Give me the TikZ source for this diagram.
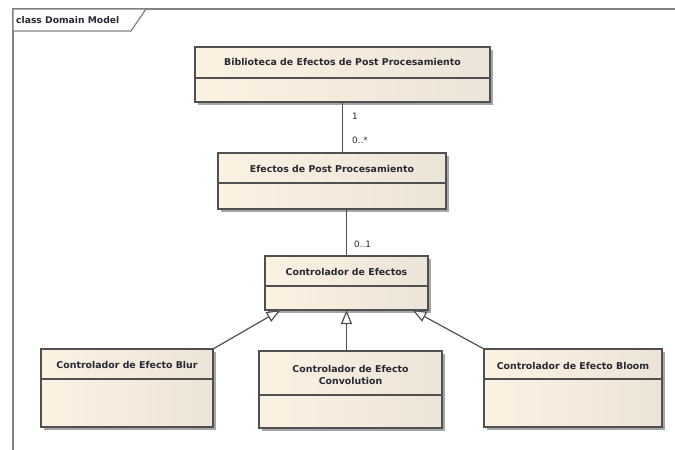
\documentclass[tikz,border=0pt]{standalone}
\usepackage{fontspec}
\setmainfont{DejaVu Sans}
\usetikzlibrary{arrows.meta,shadows}
\definecolor{boxL}{RGB}{252,242,226}
\definecolor{boxR}{RGB}{236,228,216}
\definecolor{edge}{RGB}{80,80,80}
\definecolor{txt}{RGB}{40,40,50}
\tikzset{
  cls/.style={draw=edge, line width=1.3pt, left color=boxL, right color=boxR,
    inner sep=0pt, outer sep=0pt,
    drop shadow={shadow xshift=2.5pt, shadow yshift=-2.5pt, fill=black!35, opacity=1}},
  ttl/.style={font=\bfseries\fontsize{9.4}{11}\selectfont, text=txt, align=center, inner sep=0pt},
  mult/.style={font=\fontsize{8.8}{10}\selectfont, text=txt, anchor=west, inner sep=0pt},
  divl/.style={draw=edge, line width=1.2pt},
  assoc/.style={draw=edge, line width=1.2pt},
  gen/.style={draw=edge, line width=1.2pt, -{Triangle[open, length=14pt, width=11pt, fill=white]}},
}
\begin{document}
\begin{tikzpicture}[x=1pt,y=-1pt]
\useasboundingbox (0,0) rectangle (675,450);
% frame
\draw[draw=black!50, line width=1.2pt] (675,9) -- (13,9) -- (13,450);
\draw[draw=black!50, line width=1.2pt, fill=white] (13,9) -- (146,9) -- (131,31) -- (13,31) -- cycle;
\node[font=\bfseries\fontsize{9.2}{10}\selectfont, text=txt, anchor=west, inner sep=0pt] (frametitle) at (16,20) {class Domain Model};

% classes
\node[cls, minimum width=295pt, minimum height=55pt] (b1) at (342.5,74.5) {};
\node[ttl] (t1) at (342.5,62) {Biblioteca de Efectos de Post Procesamiento};
\draw[divl] (195,78) -- (490,78);

\node[cls, minimum width=228pt, minimum height=56pt] (b2) at (332,181) {};
\node[ttl] (t2) at (332,169) {Efectos de Post Procesamiento};
\draw[divl] (218,183) -- (446,183);

\node[cls, minimum width=163pt, minimum height=54pt] (b3) at (346.5,283) {};
\node[ttl] (t3) at (346.5,272) {Controlador de Efectos};
\draw[divl] (265,286) -- (428,286);

\node[cls, minimum width=172pt, minimum height=78pt] (blur) at (127,388) {};
\node[ttl] (t4) at (127,365) {Controlador de Efecto Blur};
\draw[divl] (41,379) -- (213,379);

\node[cls, minimum width=183pt, minimum height=77pt] (conv) at (350.5,389.5) {};
\node[ttl] (t5) at (350.5,375) {Controlador de Efecto\\[1pt]Convolution};
\draw[divl] (259,395) -- (442,395);

\node[cls, minimum width=178pt, minimum height=78pt] (bloom) at (573,388) {};
\node[ttl] (t6) at (573,366) {Controlador de Efecto Bloom};
\draw[divl] (484,379) -- (662,379);

% associations
\draw[assoc] (b1.south) -- (b1.south |- b2.north);
\node[mult] (m1) at (352,116) {1};
\node[mult] (m2) at (352,140) {0..*};
\draw[assoc] (b3.north |- b2.south) -- (b3.north);
\node[mult] (m3) at (354,244) {0..1};

% generalizations
\draw[gen] (blur.north east) -- ([xshift=-66pt]b3.south);
\draw[gen] (b3.south |- conv.north) -- (b3.south);
\draw[gen] (bloom.north west) -- ([xshift=66pt]b3.south);
\end{tikzpicture}
\end{document}
